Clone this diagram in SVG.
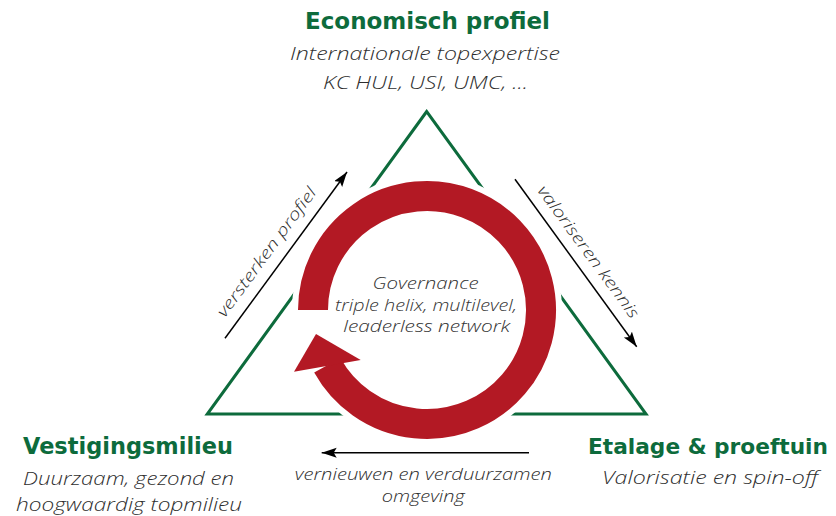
<svg xmlns="http://www.w3.org/2000/svg" width="836" height="516" viewBox="0 0 836 516">
  <style>
    .head { font-family: "DejaVu Sans", "Liberation Sans", sans-serif; font-weight: bold; font-size: 23px; fill: #0d6b3c; text-anchor: middle; }
    .sub { font-family: "Open Sans", "Noto Sans", "Liberation Sans", sans-serif; font-weight: 300; font-style: italic; font-size: 18px; fill: #2e2e2e; text-anchor: middle; }
    .mid { font-family: "Open Sans", "Noto Sans", "Liberation Sans", sans-serif; font-weight: 300; font-style: italic; font-size: 17px; fill: #333333; text-anchor: middle; }
    .lbl { font-family: "Open Sans", "Noto Sans", "Liberation Sans", sans-serif; font-weight: 300; font-style: italic; font-size: 16px; fill: #2e2e2e; text-anchor: middle; }
    .conn { stroke: #000000; stroke-width: 1.5; fill: none; marker-end: url(#ah); }
    .tri { fill: none; stroke: #0d6b3c; stroke-width: 3; stroke-linejoin: miter; }
    .ring { fill: none; stroke: #b31924; stroke-width: 30; }
  </style>
  <defs>
    <marker id="ah" markerUnits="userSpaceOnUse" markerWidth="16" markerHeight="12" refX="15" refY="5" orient="auto">
      <path d="M0,0 L15,5 L0,10 L3,5 z" fill="#000000"/>
    </marker>
  </defs>
  <rect width="836" height="516" fill="#ffffff"/>

  <g id="frame">
    <polygon class="tri" points="426.7,111.5 207.3,414 646,414"/>
    <circle cx="427" cy="310" r="135" fill="#ffffff"/>
  </g>

  <g id="node-governance">
    <path class="ring" d="M313,310 A114,114 0 1 1 327.3,365.3"/>
    <polygon points="294,371.7 316,334 360.7,360" fill="#b31924"/>
    <text class="mid" x="425.5" y="289" textLength="106" lengthAdjust="spacingAndGlyphs">Governance</text>
    <text class="mid" x="426" y="310.5" textLength="182" lengthAdjust="spacingAndGlyphs">triple helix, multilevel,</text>
    <text class="mid" x="426.7" y="332" textLength="167" lengthAdjust="spacingAndGlyphs">leaderless network</text>
  </g>

  <g id="node-economisch">
    <text class="head" x="427.5" y="29" textLength="245" lengthAdjust="spacingAndGlyphs">Economisch profiel</text>
    <text class="sub" x="425" y="59.5" textLength="270" lengthAdjust="spacingAndGlyphs">Internationale topexpertise</text>
    <text class="sub" x="425.5" y="89" textLength="205" lengthAdjust="spacingAndGlyphs">KC HUL, USI, UMC, ...</text>
  </g>

  <g id="node-vestigingsmilieu">
    <text class="head" x="128" y="453.5" textLength="210" lengthAdjust="spacingAndGlyphs">Vestigingsmilieu</text>
    <text class="sub" x="128.5" y="485" textLength="211" lengthAdjust="spacingAndGlyphs">Duurzaam, gezond en</text>
    <text class="sub" x="129" y="510.5" textLength="226" lengthAdjust="spacingAndGlyphs">hoogwaardig topmilieu</text>
  </g>

  <g id="node-etalage">
    <text class="head" x="708" y="454" style="font-size:21.5px" textLength="240" lengthAdjust="spacingAndGlyphs">Etalage &amp; proeftuin</text>
    <text class="sub" x="710" y="484" textLength="216" lengthAdjust="spacingAndGlyphs">Valorisatie en spin-off</text>
  </g>

  <g id="connectors">
    <line class="conn" x1="225" y1="338.3" x2="347" y2="172"/>
    <text class="lbl" transform="translate(270.9,255.4) rotate(-53.7)" textLength="156" lengthAdjust="spacingAndGlyphs">versterken profiel</text>
    <line class="conn" x1="515" y1="179.3" x2="636.7" y2="346.7"/>
    <text class="lbl" transform="translate(584,255) rotate(53.8)" textLength="160" lengthAdjust="spacingAndGlyphs">valoriseren kennis</text>
    <line class="conn" x1="529" y1="452.7" x2="321.7" y2="452.7"/>
    <text class="lbl" x="423.3" y="480" textLength="257" lengthAdjust="spacingAndGlyphs">vernieuwen en verduurzamen</text>
    <text class="lbl" x="423.3" y="501.5" textLength="83" lengthAdjust="spacingAndGlyphs">omgeving</text>
  </g>
</svg>
